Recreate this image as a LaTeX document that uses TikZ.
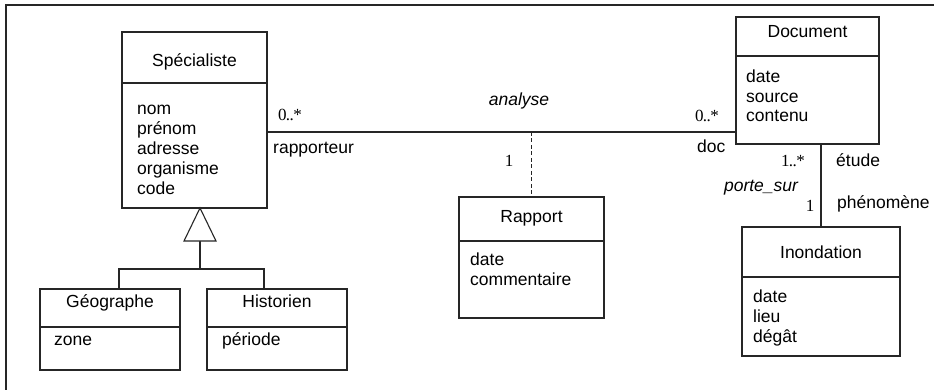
\documentclass[tikz,border=0pt]{standalone}
\usepackage{fontspec}
\setmainfont{Liberation Sans}
\newfontfamily\tms{Liberation Serif}
\begin{document}
\begin{tikzpicture}[x=1pt,y=-1pt,
  cls/.style={draw=black!85, line width=1.1pt, inner sep=0pt, outer sep=0pt, anchor=north west, fill=white},
  sep/.style={draw=black!85, line width=1.1pt},
  conn/.style={draw=black!85, line width=1.1pt},
  ttl/.style={font=\fontsize{17.5}{20}\selectfont, anchor=base, inner sep=0pt},
  attr/.style={font=\fontsize{17.5}{20}\selectfont, anchor=base west, inner sep=0pt},
  role/.style={font=\fontsize{17.5}{20}\selectfont, anchor=base west, inner sep=0pt},
  assoc/.style={font=\fontsize{17.5}{20}\selectfont\itshape, anchor=base, inner sep=0pt},
  mult/.style={font=\tms\fontsize{17}{20}\selectfont, anchor=base, inner sep=0pt}]
\useasboundingbox (0,0) rectangle (934,390);
\fill[white] (0,0) rectangle (934,390);
% frame (only left and top visible)
\draw[line width=2pt, black!85] (6,395) -- (6,5) -- (940,5);

% Specialiste
\node[cls, minimum width=145pt, minimum height=176pt] (spec) at (122,32) {};
\draw[sep] (spec.west |- 0,83) -- (spec.east |- 0,83);
\node[ttl] (specT) at (194.5,67) {Spécialiste};
\node[attr] (s1) at (137,115) {nom};
\node[attr] (s2) at (137,135) {prénom};
\node[attr] (s3) at (137,155) {adresse};
\node[attr] (s4) at (137,175) {organisme};
\node[attr] (s5) at (137,195) {code};

% Document
\node[cls, minimum width=143pt, minimum height=127pt] (doc) at (736,17) {};
\draw[sep] (doc.west |- 0,56) -- (doc.east |- 0,56);
\node[ttl] (docT) at (807.5,38) {Document};
\node[attr] (d1) at (746,83) {date};
\node[attr] (d2) at (746,102.5) {source};
\node[attr] (d3) at (746,122) {contenu};

% Rapport
\node[cls, minimum width=145pt, minimum height=121pt] (rap) at (459,197) {};
\draw[sep] (rap.west |- 0,241) -- (rap.east |- 0,241);
\node[ttl] (rapT) at (531.5,222.5) {Rapport};
\node[attr] (r1) at (470,265) {date};
\node[attr] (r2) at (470,285) {commentaire};

% Inondation
\node[cls, minimum width=158pt, minimum height=129pt] (inon) at (742,227) {};
\draw[sep] (inon.west |- 0,277) -- (inon.east |- 0,277);
\node[ttl] (inonT) at (821,258) {Inondation};
\node[attr] (i1) at (753,302) {date};
\node[attr] (i2) at (753,322) {lieu};
\node[attr] (i3) at (753,342) {dégât};

% Geographe
\node[cls, minimum width=140pt, minimum height=81pt] (geo) at (40,289) {};
\draw[sep] (geo.west |- 0,327) -- (geo.east |- 0,327);
\node[ttl] (geoT) at (110,307.5) {Géographe};
\node[attr] (g1) at (54,345) {zone};

% Historien
\node[cls, minimum width=140pt, minimum height=81pt] (hist) at (207,289) {};
\draw[sep] (hist.west |- 0,327) -- (hist.east |- 0,327);
\node[ttl] (histT) at (277,307.5) {Historien};
\node[attr] (h1) at (222,345) {période};

% generalisation
\coordinate (apex) at (200,208);
\coordinate (tribase) at (200,241);
\coordinate (jn) at (200,269);
\coordinate (jl) at (119,269);
\coordinate (jr) at (264,269);
\draw[conn] (tribase) -- (jn);
\draw[conn] (jl |- geo.north) -- (jl) -- (jr) -- (jr |- hist.north);
\draw[conn, fill=white, line join=miter] (apex) -- (184,241) -- (216,241) -- cycle;

% association analyse
\coordinate (a) at (0,132);
\draw[conn] (spec.east |- a) -- (doc.west |- a);
\draw[conn, dash pattern=on 4pt off 2.5pt] (rap.north |- a) -- (rap.north);
\node[assoc] (an) at (519,106) {analyse};
\node[mult] (m1) at (290,121) {0\kern-0.7pt.\kern-0.7pt.\kern-0.4pt*};
\node[role] (ro1) at (273,154) {rapporteur};
\node[mult] (m2) at (707,121.5) {0\kern-0.7pt.\kern-0.7pt.\kern-0.4pt*};
\node[role] (ro2) at (697,153) {doc};
\node[mult] (m3) at (509,167) {1};

% porte_sur
\draw[conn] (inon.north) -- (inon.north |- doc.south);
\node[mult] (m4) at (793,166.5) {1\kern-0.7pt.\kern-0.7pt.\kern-0.4pt*};
\node[role] (ro3) at (836,166.5) {étude};
\node[assoc] (ps) at (761,192) {porte\_sur};
\node[mult] (m5) at (810,211.5) {1};
\node[role] (ro4) at (837,208) {phénomène};
\end{tikzpicture}
\end{document}
